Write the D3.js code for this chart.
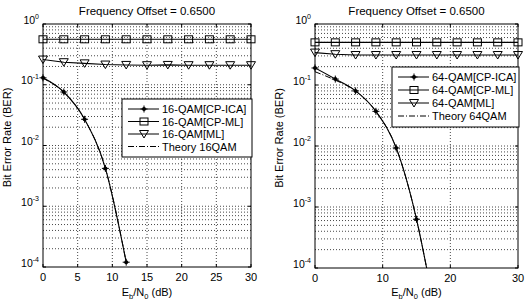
<!DOCTYPE html>
<meta charset="utf-8">
<style>
body { margin: 0; background: #fff; }
svg { display: block; font-family: "Liberation Sans", Arial, sans-serif; }
.grid line { stroke: #333; stroke-width: 0.9; stroke-dasharray: 1,2; }
</style>
<svg width="527" height="302"></svg>
<script src="https://cdn.jsdelivr.net/npm/d3@7"></script>
<script>
// markers every 3 dB
var snrMk = [0, 3, 6, 9, 12, 15, 18, 21, 24, 27, 30]

// 16-QAM panel
var ica16X = [0, 3, 6, 9, 12]
var ica16 = [0.13, 0.076, 0.027, 0.0042, 0.00012]
var theory16X = [0, 3, 6, 9, 12]
var theory16 = [0.128, 0.075, 0.027, 0.0042, 0.00012]
var cpml16 = [0.56, 0.56, 0.56, 0.56, 0.56, 0.56, 0.56, 0.56, 0.56, 0.56, 0.56]
var ml16 = [0.26, 0.235, 0.225, 0.215, 0.212, 0.21, 0.212, 0.21, 0.21, 0.21, 0.21]

// 64-QAM panel
var ica64X = [0, 3, 6, 9, 12, 15, 16.5]
var ica64 = [0.19, 0.125, 0.08, 0.037, 0.0093, 0.00063, 0.0001]
var theory64X = [0, 3, 6, 9, 12, 15, 16.5]
var theory64 = [0.165, 0.12, 0.08, 0.037, 0.0093, 0.00063, 0.0001]
var cpml64 = [0.5, 0.5, 0.5, 0.5, 0.5, 0.5, 0.5, 0.5, 0.5, 0.5, 0.5]
var ml64 = [0.34, 0.32, 0.31, 0.31, 0.31, 0.31, 0.31, 0.31, 0.31, 0.31, 0.31]

var xTicks16 = [0, 5, 10, 15, 20, 25, 30]
var xTicks64 = [0, 10, 20, 30]
var yTicks = [1, 0.1, 0.01, 0.001, 0.0001]

var titleText = "Frequency Offset = 0.6500"
var legend16 = ["16-QAM[CP-ICA]", "16-QAM[CP-ML]", "16-QAM[ML]", "Theory 16QAM"]
var legend64 = ["64-QAM[CP-ICA]", "64-QAM[CP-ML]", "64-QAM[ML]", "Theory 64QAM"]

var svg = d3.select("svg")

function panel(o){
  var x = d3.scaleLinear().domain([0, 30]).range([o.x0, o.x1])
  var y = d3.scaleLog().domain([1e-4, 1]).range([o.y1, o.y0])
  var g = svg.append("g")
  var clipId = "clip" + o.id
  g.append("clipPath").attr("id", clipId).append("rect")
    .attr("x", o.x0).attr("y", o.y0).attr("width", o.x1 - o.x0).attr("height", o.y1 - o.y0)

  // grid
  var grid = g.append("g").attr("class", "grid")
  var minor = []
  for(var e = -4; e < 0; e++)
    for(var k = 1; k < 10; k++)
      minor.push(k * Math.pow(10, e))
  grid.selectAll("line.h").data(minor.slice(1)).enter().append("line")
    .attr("x1", o.x0).attr("x2", o.x1)
    .attr("y1", function(d){ return y(d) }).attr("y2", function(d){ return y(d) })
  grid.selectAll("line.v").data(o.xTicks.slice(1, -1)).enter().append("line")
    .attr("y1", o.y0).attr("y2", o.y1)
    .attr("x1", function(d){ return x(d) }).attr("x2", function(d){ return x(d) })

  // box + ticks
  g.append("rect").attr("x", o.x0).attr("y", o.y0).attr("width", o.x1 - o.x0).attr("height", o.y1 - o.y0)
    .attr("fill", "none").attr("stroke", "#000").attr("stroke-width", 1)
  o.xTicks.forEach(function(t){
    g.append("line").attr("x1", x(t)).attr("x2", x(t)).attr("y1", o.y1).attr("y2", o.y1 - 3).attr("stroke", "#000")
    g.append("line").attr("x1", x(t)).attr("x2", x(t)).attr("y1", o.y0).attr("y2", o.y0 + 3).attr("stroke", "#000")
    g.append("text").attr("x", x(t)).attr("y", o.y1 + 14).attr("text-anchor", "middle")
      .attr("font-size", 11).text(t)
  })
  yTicks.forEach(function(t){
    g.append("line").attr("x1", o.x0).attr("x2", o.x0 + 3).attr("y1", y(t)).attr("y2", y(t)).attr("stroke", "#000")
    g.append("line").attr("x1", o.x1).attr("x2", o.x1 - 3).attr("y1", y(t)).attr("y2", y(t)).attr("stroke", "#000")
    var tx = g.append("text").attr("x", o.x0 - 4).attr("y", y(t) - 0.5).attr("text-anchor", "end").attr("font-size", 10.5)
    tx.append("tspan").text("10")
    tx.append("tspan").attr("dy", -5).attr("font-size", 7).text(Math.round(Math.log10(t)) === 0 ? "0" : "-" + (-Math.round(Math.log10(t))))
  })

  // title and labels
  g.append("text").attr("x", (o.x0 + o.x1) / 2).attr("y", 15).attr("text-anchor", "middle")
    .attr("font-size", 11.5).text(titleText)
  var xl = g.append("text").attr("x", (o.x0 + o.x1) / 2).attr("y", 296).attr("text-anchor", "middle").attr("font-size", 11)
  xl.append("tspan").text("E")
  xl.append("tspan").attr("font-size", 7.5).attr("dy", 3).text("b")
  xl.append("tspan").attr("dy", -3).text("/N")
  xl.append("tspan").attr("font-size", 7.5).attr("dy", 3).text("0")
  xl.append("tspan").attr("dy", -3).text(" (dB)")
  g.append("text").attr("transform", "translate(" + (o.x0 - 32) + "," + ((o.y0 + o.y1) / 2 - 8) + ") rotate(-90)")
    .attr("text-anchor", "middle").attr("font-size", 11).text("Bit Error Rate (BER)")

  // series
  var plot = g.append("g").attr("clip-path", "url(#" + clipId + ")")
  var smooth = d3.line().curve(d3.curveMonotoneX)
  var straight = d3.line()
  function pts(xs, ys){ return xs.map(function(v, i){ return [x(v), y(ys[i])] }) }

  plot.append("path").attr("d", smooth(pts(o.thX, o.th))).attr("fill", "none").attr("stroke", "#000")
    .attr("stroke-width", 1).attr("stroke-dasharray", "6,2,1,2")
  plot.append("path").attr("d", smooth(pts(o.icaX, o.ica))).attr("fill", "none").attr("stroke", "#000").attr("stroke-width", 1.1)
  plot.append("path").attr("d", straight(pts(snrMk, o.cpml))).attr("fill", "none").attr("stroke", "#000").attr("stroke-width", 1.1)
  plot.append("path").attr("d", straight(pts(snrMk, o.ml))).attr("fill", "none").attr("stroke", "#000").attr("stroke-width", 1.1)

  var mk = g.append("g")
  o.icaX.forEach(function(v, i){
    if(v % 3 === 0) star(mk, x(v), y(o.ica[i]))
  })
  snrMk.forEach(function(v, i){
    square(mk, x(v), y(o.cpml[i]))
    tri(mk, x(v), y(o.ml[i]))
  })

  // legend
  var L = o.legend
  var lg = g.append("g")
  lg.append("rect").attr("x", L.x).attr("y", L.y).attr("width", L.w).attr("height", L.h)
    .attr("fill", "#fff").attr("stroke", "#000").attr("stroke-width", 1)
  L.labels.forEach(function(s, i){
    var yy = L.y + 10 + i * L.step
    var l = lg.append("line").attr("x1", L.x + 6).attr("x2", L.x + 37).attr("y1", yy).attr("y2", yy)
      .attr("stroke", "#000").attr("stroke-width", 1)
    if(i === 3) l.attr("stroke-dasharray", "6,2,1,2")
    if(i === 0) star(lg, L.x + 22, yy)
    if(i === 1) square(lg, L.x + 22, yy)
    if(i === 2) tri(lg, L.x + 22, yy)
    lg.append("text").attr("x", L.x + 40).attr("y", yy + 4).attr("font-size", 11).text(s)
  })
}

function star(g, cx, cy){
  g.append("circle").attr("cx", cx).attr("cy", cy).attr("r", 2).attr("fill", "#000")
  g.append("path").attr("d", "M" + (cx - 3.5) + "," + cy + "h7M" + cx + "," + (cy - 3.5) + "v7")
    .attr("stroke", "#000").attr("stroke-width", 1)
}
function square(g, cx, cy){
  g.append("rect").attr("x", cx - 4).attr("y", cy - 3.5).attr("width", 8).attr("height", 7)
    .attr("fill", "none").attr("stroke", "#000").attr("stroke-width", 1)
}
function tri(g, cx, cy){
  g.append("path").attr("d", "M" + (cx - 4.5) + "," + (cy - 3.5) + "h9l-4.5,7.5z")
    .attr("fill", "none").attr("stroke", "#000").attr("stroke-width", 1)
}

panel({id: 1, x0: 43, x1: 251, y0: 24, y1: 267, xTicks: xTicks16,
  icaX: ica16X, ica: ica16, thX: theory16X, th: theory16, cpml: cpml16, ml: ml16,
  legend: {x: 122, y: 99, w: 130, h: 58, step: 12.5, labels: legend16}})
panel({id: 2, x0: 315, x1: 518, y0: 24, y1: 268, xTicks: xTicks64,
  icaX: ica64X, ica: ica64, thX: theory64X, th: theory64, cpml: cpml64, ml: ml64,
  legend: {x: 392, y: 67, w: 127, h: 60, step: 13, labels: legend64}})
</script>
